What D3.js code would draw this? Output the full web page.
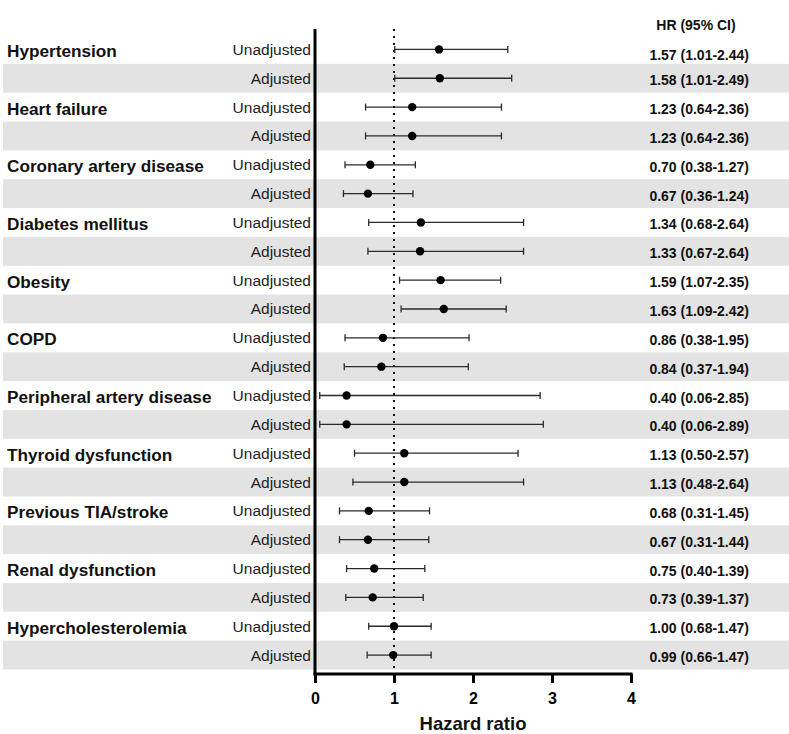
<!DOCTYPE html>
<html><head><meta charset="utf-8">
<script src="https://cdn.jsdelivr.net/npm/d3@7"></script>
<style>body{margin:0;background:#fff}svg{display:block;font-family:"Liberation Sans",Arial,sans-serif}</style>
</head><body><svg id="c" width="789" height="734"></svg>
<script>
const categories = ["Hypertension","Heart failure","Coronary artery disease","Diabetes mellitus","Obesity","COPD","Peripheral artery disease","Thyroid dysfunction","Previous TIA/stroke","Renal dysfunction","Hypercholesterolemia"];
const models = ["Unadjusted","Adjusted"];
const hr    = [1.57,1.58, 1.23,1.23, 0.70,0.67, 1.34,1.33, 1.59,1.63, 0.86,0.84, 0.40,0.40, 1.13,1.13, 0.68,0.67, 0.75,0.73, 1.00,0.99];
const lower = [1.01,1.01, 0.64,0.64, 0.38,0.36, 0.68,0.67, 1.07,1.09, 0.38,0.37, 0.06,0.06, 0.50,0.48, 0.31,0.31, 0.40,0.39, 0.68,0.66];
const upper = [2.44,2.49, 2.36,2.36, 1.27,1.24, 2.64,2.64, 2.35,2.42, 1.95,1.94, 2.85,2.89, 2.57,2.64, 1.45,1.44, 1.39,1.37, 1.47,1.47];
const xTicks = [0,1,2,3,4];

const rows = [];
categories.forEach((c,ci)=>models.forEach((m,mi)=>{
  const i = ci*2+mi;
  rows.push({id:i, cat:c, model:m, hr:hr[i], lo:lower[i], hi:upper[i]});
}));

const svg = d3.select("#c");
const x = d3.scaleLinear().domain([0,4]).range([315,631]);
const y = d3.scaleBand().domain(rows.map(d=>d.id)).range([35,669.5]);
const bw = y.bandwidth();
const yc = d => y(d.id)+bw/2;

// gray bands
svg.selectAll("rect.band").data(rows.filter(d=>d.model==="Adjusted")).join("rect")
  .attr("x",3).attr("width",786).attr("y",d=>y(d.id)).attr("height",bw).attr("fill","#e3e3e3");

// reference line
svg.append("line").attr("x1",x(1)).attr("x2",x(1)).attr("y1",29).attr("y2",674)
  .attr("stroke","#111").attr("stroke-width",2).attr("stroke-dasharray","2,5");

// error bars
const g = svg.append("g");
g.selectAll("line.ci").data(rows).join("line")
  .attr("x1",d=>x(d.lo)).attr("x2",d=>x(d.hi)).attr("y1",yc).attr("y2",yc)
  .attr("stroke","#2a2a2a").attr("stroke-width",1.3);
["lo","hi"].forEach(k=>{
  g.selectAll("line.cap"+k).data(rows).join("line")
    .attr("x1",d=>x(d[k])).attr("x2",d=>x(d[k])).attr("y1",d=>yc(d)-3.5).attr("y2",d=>yc(d)+3.5)
    .attr("stroke","#2a2a2a").attr("stroke-width",1.3);
});
g.selectAll("circle").data(rows).join("circle")
  .attr("cx",d=>x(d.hr)).attr("cy",yc).attr("r",4.2).attr("fill","#000");

// axes
const xa = svg.append("g").attr("transform","translate(0,674)")
  .call(d3.axisBottom(x).tickValues(xTicks).tickFormat(d3.format("d")).tickSize(9).tickSizeOuter(0));
xa.select(".domain").attr("stroke","#000").attr("stroke-width",3).attr("d","M313.5,0H632.5");
xa.selectAll(".tick line").attr("stroke","#000").attr("stroke-width",3);
xa.selectAll(".tick text").attr("fill","#000").attr("font-size",16).attr("font-weight","bold")
  .attr("font-family","Liberation Sans, Arial, sans-serif").attr("dy","1.1em");
svg.append("line").attr("x1",315).attr("x2",315).attr("y1",29).attr("y2",675.5)
  .attr("stroke","#000").attr("stroke-width",3);

svg.append("text").attr("x",x(2)).attr("y",730).attr("text-anchor","middle")
  .attr("font-size",18.5).attr("font-weight","bold").attr("fill","#111").text("Hazard ratio");

// labels
svg.selectAll("text.cat").data(rows.filter(d=>d.model==="Unadjusted")).join("text")
  .attr("x",7).attr("y",d=>yc(d)+1.5).attr("dominant-baseline","central")
  .attr("font-size",17.2).attr("font-weight","bold").attr("fill","#111").text(d=>d.cat);
svg.selectAll("text.mod").data(rows).join("text")
  .attr("x",311).attr("y",yc).attr("dominant-baseline","central").attr("text-anchor","end")
  .attr("font-size",15.5).attr("fill","#222").text(d=>d.model);

const f = d3.format(".2f");
svg.append("text").attr("x",696).attr("y",25).attr("text-anchor","middle").attr("dominant-baseline","central")
  .attr("font-size",14).attr("font-weight","bold").attr("fill","#111").text("HR (95% CI)");
svg.selectAll("text.hr").data(rows).join("text")
  .attr("x",749).attr("y",d=>yc(d)+(d.id===0?6:2)).attr("dominant-baseline","central").attr("text-anchor","end")
  .attr("font-size",14).attr("font-weight","bold").attr("fill","#111")
  .text(d=>`${f(d.hr)} (${f(d.lo)}-${f(d.hi)})`);
</script></body></html>
